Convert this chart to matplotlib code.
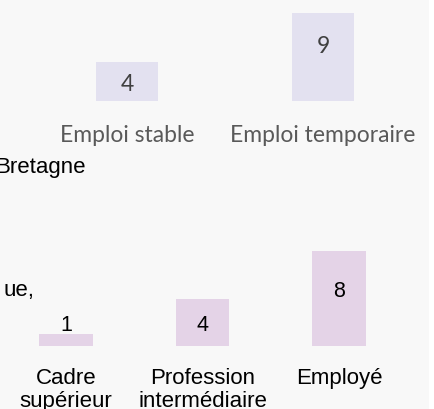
import matplotlib
matplotlib.use("Agg")
import matplotlib.pyplot as plt
from matplotlib.patches import Rectangle

# data
contrat_labels = ["Emploi stable", "Emploi temporaire"]
contrat_values = [4, 9]

csp_labels = ["Cadre\nsupérieur", "Profession\nintermédiaire", "Employé"]
csp_values = [1, 4, 8]

W, H = 435, 410
fig = plt.figure(figsize=(W / 100, H / 100), dpi=100)
fig.patch.set_facecolor("white")
# light grey panel, white strip on the right
fig.patches.append(Rectangle((0, 0), 429 / W, 1, transform=fig.transFigure,
                             facecolor="#f8f8f8", edgecolor="none", zorder=-10))


def label_y(v):
    # value label inside the bar top, or above the bar for tiny bars
    return max(v - 3.3, 1.8)


# ---------- top chart : type de contrat ----------
ax1 = fig.add_axes([29 / W, 308.5 / H, 392 / W, 97 / H])
ax1.set_xlim(-0.5, 1.5)
ax1.set_ylim(0, 10)
ax1.bar(range(len(contrat_values)), contrat_values, width=0.316, color="#e3e1f0")
for i, v in enumerate(contrat_values):
    ax1.text(i, label_y(v), str(v), ha="center", va="center",
             fontsize=16.5, family="Lato", color="#404040")
    ax1.annotate(contrat_labels[i], xy=(i, 0), xycoords=("data", "axes fraction"),
                 xytext=(0, -29.2), textcoords="offset points",
                 ha="center", va="baseline", fontsize=16.5, family="Lato",
                 color="#595959")
ax1.axis("off")

# ---------- bottom chart : CSP ----------
ax2 = fig.add_axes([-2.25 / W, 63 / H, 409.5 / W, 118.5 / H])
ax2.set_xlim(-0.5, 2.5)
ax2.set_ylim(0, 10)
ax2.bar(range(len(csp_values)), csp_values, width=0.395, color="#e4d3e7")
for i, v in enumerate(csp_values):
    ax2.text(i, label_y(v), str(v), ha="center", va="center",
             fontsize=15.5, family="Liberation Sans", color="black")
    # one line at a time so the first line keeps its baseline
    for k, line in enumerate(csp_labels[i].split("\n")):
        ax2.annotate(line, xy=(i, 0), xycoords=("data", "axes fraction"),
                     xytext=(0, -26.6 - k * 16.6), textcoords="offset points",
                     ha="center", va="baseline", fontsize=16,
                     family="Liberation Sans", color="black")
ax2.axis("off")

# cut-off titles of the neighbouring block
fig.text(86 / W, 1 - 173 / H, "Bretagne", ha="right", va="baseline",
         fontsize=16, family="Liberation Sans", color="black")
fig.text(34 / W, 1 - 296 / H, "ue,", ha="right", va="baseline",
         fontsize=16, family="Liberation Sans", color="black")

fig.savefig("out.png", dpi=100, facecolor=fig.get_facecolor())
